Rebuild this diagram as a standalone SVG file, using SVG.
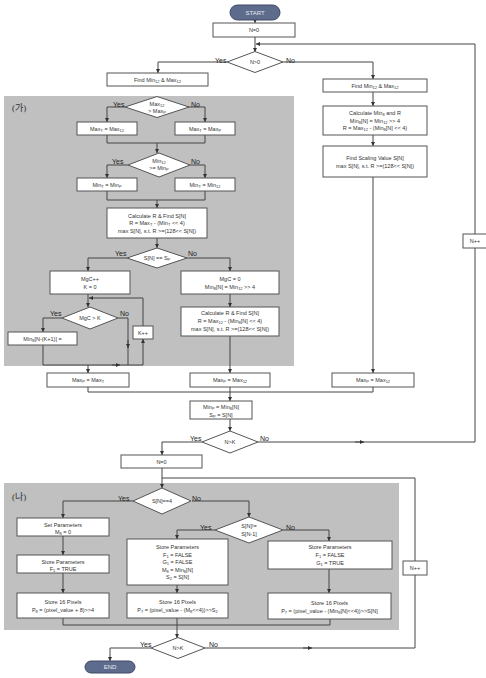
<svg xmlns="http://www.w3.org/2000/svg" width="486" height="678" viewBox="0 0 486 678">
<style>
.b{fill:#fff;stroke:#555;stroke-width:1}
.d{fill:#fff;stroke:#555;stroke-width:1}
.p{fill:#5d6b8c;stroke:#3f4a66;stroke-width:1}
.t{font-family:"Liberation Sans",Arial,sans-serif;font-size:5.5px;fill:#333;text-anchor:middle}
.w{font-family:"Liberation Sans",Arial,sans-serif;font-size:6px;fill:#e8ecf4;text-anchor:middle}
.s{font-size:4px;baseline-shift:-1.2px}
.l{font-family:"Liberation Sans",Arial,sans-serif;font-size:7px;fill:#222}
.r{font-family:"Liberation Serif","Noto Sans CJK KR",serif;font-size:9px;fill:#333}
.c{fill:none;stroke:#444;stroke-width:1}
.g{fill:#c0c0c0}
</style>
<defs>
<marker id="a" viewBox="0 0 6 6" refX="6" refY="3" markerWidth="4" markerHeight="4" orient="auto" markerUnits="userSpaceOnUse"><path d="M0,0L6,3L0,6z" fill="#333"/></marker>
</defs>
<rect class="g" x="4" y="96" width="290" height="270"/>
<rect class="g" x="4" y="483" width="395" height="147"/>
<text class="r" x="12" y="111">(가)</text>
<text class="r" x="12" y="500">(나)</text>
<g id="connectors" marker-end="url(#a)">
<path class="c" d="M255,20V23"/>
<path class="c" d="M255,37V52"/>
<path class="c" d="M227,62H158V73"/>
<path class="c" d="M283,62H373V79"/>
<path class="c" d="M373,92V106"/>
<path class="c" d="M373,135V146"/>
<path class="c" d="M373,177V373"/>
<path class="c" d="M88,387V392H373V387" marker-end="none"/>
<path class="c" d="M230,387V401"/>
<path class="c" d="M230,419V431"/>
<path class="c" d="M202,442H162V455"/>
<path class="c" d="M258,442H475V44H256"/>
<path class="c" d="M355,442H364"/>
<path class="c" d="M125,107H107V122"/>
<path class="c" d="M188,107H205V122"/>
<path class="c" d="M107,135V143H205V135" marker-end="none"/>
<path class="c" d="M157,143V153"/>
<path class="c" d="M128,165H107V178"/>
<path class="c" d="M190,165H205V178"/>
<path class="c" d="M107,191V200H205V191" marker-end="none"/>
<path class="c" d="M157,200V208"/>
<path class="c" d="M157,238V248"/>
<path class="c" d="M127,258H88V271"/>
<path class="c" d="M187,258H230V271"/>
<path class="c" d="M88,294V307"/>
<path class="c" d="M143,326V298H89"/>
<path class="c" d="M62,318H43V332"/>
<path class="c" d="M118,318H128V365" marker-end="none"/>
<path class="c" d="M128,340V348"/>
<path class="c" d="M43,345V365H143V339"/>
<path class="c" d="M112,365H120"/>
<path class="c" d="M88,365V373"/>
<path class="c" d="M230,294V307"/>
<path class="c" d="M230,336V373"/>
<path class="c" d="M162,468V488"/>
<path class="c" d="M205,648H415V478H162" marker-end="none"/>
<path class="c" d="M303,648H312"/>
<path class="c" d="M133,501H63V518"/>
<path class="c" d="M192,501H249V517"/>
<path class="c" d="M63,536V555"/>
<path class="c" d="M63,573V593"/>
<path class="c" d="M215,530H177V539"/>
<path class="c" d="M283,530H329V541"/>
<path class="c" d="M177,585V593"/>
<path class="c" d="M329,569V593"/>
<path class="c" d="M63,618V625H330V619" marker-end="none"/>
<path class="c" d="M177,618V638"/>
<path class="c" d="M151,648H110V661"/>
</g>
<g id="start"><rect class="p" x="230" y="5" width="50" height="15" rx="7.5"/><text class="w" x="255" y="14.5">START</text></g>
<g id="n0"><rect class="b" x="213" y="23" width="82" height="14"/><text class="t" x="254" y="32">N=0</text></g>
<g id="dN0"><polygon class="d" points="227,62 255,51.5 283,62 255,72.5"/><text class="t" x="255" y="64">N&gt;0</text></g>
<text class="l" x="215" y="63">Yes</text><text class="l" x="286" y="63">No</text>
<g id="findL"><rect class="b" x="107" y="73" width="101" height="13"/><text class="t" x="157.5" y="81.5">Find Min<tspan class="s">12</tspan> &amp; Max<tspan class="s">12</tspan></text></g>
<g id="findR"><rect class="b" x="323" y="79" width="104" height="13"/><text class="t" x="375" y="87.5">Find Min<tspan class="s">12</tspan> &amp; Max<tspan class="s">12</tspan></text></g>
<g id="calcMin"><rect class="b" x="323" y="106" width="104" height="29"/><text class="t" x="375" y="115">Calculate Min<tspan class="s">8</tspan> and R</text><text class="t" x="375" y="122.5">Min<tspan class="s">8</tspan>[N] = Min<tspan class="s">12</tspan> &gt;&gt; 4</text><text class="t" x="375" y="130">R = Max<tspan class="s">12</tspan> - (Min<tspan class="s">8</tspan>[N] &lt;&lt; 4)</text></g>
<g id="findS"><rect class="b" x="323" y="146" width="104" height="31"/><text class="t" x="375" y="160">Find Scaling Value S[N]</text><text class="t" x="375" y="167.5">max S[N],  s.t. R &gt;=(128&lt;&lt; S[N])</text></g>
<g id="maxpR"><rect class="b" x="332" y="373" width="82" height="14"/><text class="t" x="373" y="382">Max<tspan class="s">P</tspan> = Max<tspan class="s">12</tspan></text></g>
<g id="d1"><polygon class="d" points="125,107 157,96.5 189,107 157,117.5"/><text class="t" x="157" y="105.5">Max<tspan class="s">12</tspan></text><text class="t" x="157" y="113">&gt; Max<tspan class="s">P</tspan></text></g>
<text class="l" x="113" y="107">Yes</text><text class="l" x="191" y="107">No</text>
<g id="maxT12"><rect class="b" x="77" y="122" width="60" height="13"/><text class="t" x="107" y="130.5">Max<tspan class="s">T</tspan> = Max<tspan class="s">12</tspan></text></g>
<g id="maxTP"><rect class="b" x="175" y="122" width="60" height="13"/><text class="t" x="205" y="130.5">Max<tspan class="s">T</tspan> = Max<tspan class="s">P</tspan></text></g>
<g id="d2"><polygon class="d" points="128,165 159,153 190,165 159,177"/><text class="t" x="159" y="163">Min<tspan class="s">12</tspan></text><text class="t" x="159" y="170">&gt;= Min<tspan class="s">P</tspan></text></g>
<text class="l" x="112" y="164">Yes</text><text class="l" x="191" y="164">No</text>
<g id="minTP"><rect class="b" x="77" y="178" width="60" height="13"/><text class="t" x="107" y="186.5">Min<tspan class="s">T</tspan> = Min<tspan class="s">P</tspan></text></g>
<g id="minT12"><rect class="b" x="175" y="178" width="60" height="13"/><text class="t" x="205" y="186.5">Min<tspan class="s">T</tspan> = Min<tspan class="s">12</tspan></text></g>
<g id="calcR1"><rect class="b" x="107" y="208" width="100" height="30"/><text class="t" x="157" y="218">Calculate R &amp; Find S[N]</text><text class="t" x="157" y="225">R = Max<tspan class="s">T</tspan> - (Min<tspan class="s">T</tspan> &lt;&lt; 4)</text><text class="t" x="157" y="232.5">max S[N],  s.t. R &gt;=(128&lt;&lt; S[N])</text></g>
<g id="d3"><polygon class="d" points="127,258 157,248 187,258 157,268"/><text class="t" x="157" y="260">S[N] == S<tspan class="s">P</tspan></text></g>
<text class="l" x="115" y="256">Yes</text><text class="l" x="188" y="256">No</text>
<g id="mgcInc"><rect class="b" x="50" y="271" width="80" height="23"/><text class="t" x="90" y="281">MgC++</text><text class="t" x="90" y="289">K = 0</text></g>
<g id="mgc0"><rect class="b" x="181" y="271" width="98" height="23"/><text class="t" x="230" y="281">MgC = 0</text><text class="t" x="230" y="289">Min<tspan class="s">8</tspan>[N] = Min<tspan class="s">12</tspan> &gt;&gt; 4</text></g>
<g id="calcR2"><rect class="b" x="181" y="307" width="98" height="29"/><text class="t" x="230" y="315">Calculate R &amp; Find S[N]</text><text class="t" x="230" y="323">R = Max<tspan class="s">12</tspan> - (Min<tspan class="s">8</tspan>[N] &lt;&lt; 4)</text><text class="t" x="230" y="331">max S[N],  s.t. R &gt;=(128&lt;&lt; S[N])</text></g>
<g id="d4"><polygon class="d" points="62,318 90,307 118,318 90,329"/><text class="t" x="90" y="320">MgC &gt; K</text></g>
<text class="l" x="50" y="316">Yes</text><text class="l" x="120" y="316">No</text>
<g id="kinc"><rect class="b" x="133" y="326" width="20" height="13"/><text class="t" x="143" y="334.5">K++</text></g>
<g id="minK"><rect class="b" x="8" y="332" width="69" height="13"/><text class="t" x="42.5" y="340.5">Min<tspan class="s">8</tspan>[N-(K+1)] =</text></g>
<g id="maxpT"><rect class="b" x="47" y="373" width="82" height="14"/><text class="t" x="88" y="382">Max<tspan class="s">P</tspan> = Max<tspan class="s">T</tspan></text></g>
<g id="maxpM"><rect class="b" x="190" y="373" width="80" height="14"/><text class="t" x="230" y="382">Max<tspan class="s">P</tspan> = Max<tspan class="s">12</tspan></text></g>
<g id="minP"><rect class="b" x="190" y="401" width="62" height="18"/><text class="t" x="221" y="408.5">Min<tspan class="s">P</tspan> = Min<tspan class="s">8</tspan>[N]</text><text class="t" x="221" y="416.5">S<tspan class="s">P</tspan> = S[N]</text></g>
<g id="dNK1"><polygon class="d" points="202,442 230,431 258,442 230,453"/><text class="t" x="230" y="444">N&gt;K</text></g>
<text class="l" x="190" y="441">Yes</text><text class="l" x="260" y="441">No</text>
<g id="n0b"><rect class="b" x="121" y="455" width="81" height="13"/><text class="t" x="161.5" y="463.5">N=0</text></g>
<g id="ninc1"><rect class="b" x="463" y="234" width="24" height="14"/><text class="t" x="475" y="243">N++</text></g>
<g id="dS4"><polygon class="d" points="133,501 162,488 191,501 162,514"/><text class="t" x="162" y="503">S[N]==4</text></g>
<text class="l" x="118" y="501">Yes</text><text class="l" x="192" y="501">No</text>
<g id="setP"><rect class="b" x="17" y="518" width="92" height="18"/><text class="t" x="63" y="527">Set Parameters</text><text class="t" x="63" y="534">M<tspan class="s">8</tspan> = 0</text></g>
<g id="storeT"><rect class="b" x="17" y="555" width="92" height="18"/><text class="t" x="63" y="564">Store Parameters</text><text class="t" x="63" y="571">F<tspan class="s">1</tspan> = TRUE</text></g>
<g id="px1"><rect class="b" x="17" y="593" width="92" height="25"/><text class="t" x="63" y="604">Store 16 Pixels</text><text class="t" x="63" y="612">P<tspan class="s">8</tspan> = (pixel_value + 8)&gt;&gt;4</text></g>
<g id="dSN"><polygon class="d" points="215,530 249,517 283,530 249,543"/><text class="t" x="249" y="528">S[N]!=</text><text class="t" x="249" y="536">S[N-1]</text></g>
<text class="l" x="200" y="530">Yes</text><text class="l" x="286" y="530">No</text>
<g id="storeM"><rect class="b" x="127" y="539" width="101" height="46"/><text class="t" x="177.5" y="549">Store Parameters</text><text class="t" x="177.5" y="556.5">F<tspan class="s">1</tspan> = FALSE</text><text class="t" x="177.5" y="564">G<tspan class="s">1</tspan> = FALSE</text><text class="t" x="177.5" y="571.5">M<tspan class="s">8</tspan> = Min<tspan class="s">8</tspan>[N]</text><text class="t" x="177.5" y="579">S<tspan class="s">2</tspan> = S[N]</text></g>
<g id="storeR"><rect class="b" x="268" y="541" width="124" height="28"/><text class="t" x="330" y="549">Store Parameters</text><text class="t" x="330" y="557">F<tspan class="s">1</tspan> = FALSE</text><text class="t" x="330" y="565">G<tspan class="s">1</tspan> = TRUE</text></g>
<g id="px2"><rect class="b" x="127" y="593" width="101" height="25"/><text class="t" x="177.5" y="604">Store 16 Pixels</text><text class="t" x="177.5" y="612">P<tspan class="s">7</tspan> = (pixel_value - (M<tspan class="s">8</tspan>&lt;&lt;4))&gt;&gt;S<tspan class="s">2</tspan></text></g>
<g id="px3"><rect class="b" x="268" y="593" width="123" height="26"/><text class="t" x="329.5" y="605">Store 16 Pixels</text><text class="t" x="329.5" y="613">P<tspan class="s">7</tspan> = (pixel_value - (Min<tspan class="s">8</tspan>[N]&lt;&lt;4))&gt;&gt;S[N]</text></g>
<g id="ninc2"><rect class="b" x="403" y="561" width="24" height="14"/><text class="t" x="415" y="570">N++</text></g>
<g id="dNK2"><polygon class="d" points="151,648 178,637.5 205,648 178,658.5"/><text class="t" x="178" y="650">N&gt;K</text></g>
<text class="l" x="140" y="647">Yes</text><text class="l" x="209" y="647">No</text>
<g id="end"><rect class="p" x="85" y="661" width="50" height="12" rx="6"/><text class="w" x="110" y="669">END</text></g>
</svg>
